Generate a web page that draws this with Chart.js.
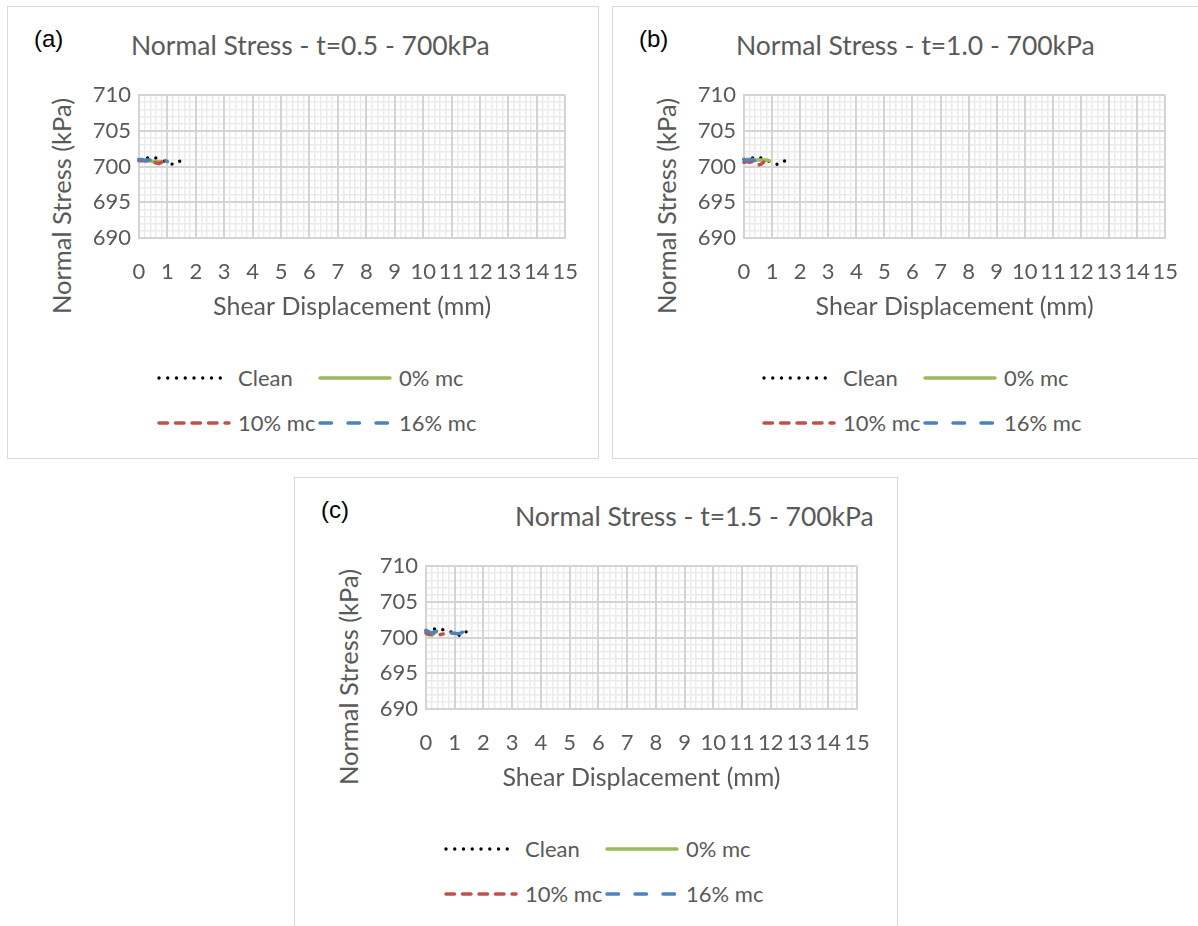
<!DOCTYPE html>
<html>
<head>
<meta charset="utf-8">
<script src="https://cdn.jsdelivr.net/npm/chart.js@4.4.1/dist/chart.umd.min.js"></script>
<style>
  html, body { margin: 0; padding: 0; background: #fff; }
  #page { position: relative; width: 1198px; height: 926px; overflow: hidden; background: #fff; }
  .panel { position: absolute; border: 1px solid #d9d9d9; box-sizing: border-box; background: #fff; }
  .panel canvas { position: absolute; left: -1px; top: -1px; }
  .tag { position: absolute; font-family: "Liberation Sans", Arial, sans-serif; font-size: 24px; line-height: 28px; color: #000; white-space: nowrap; }
  .ttl { position: absolute; font-family: Lato, sans-serif; font-size: 26.5px; line-height: 30px; color: #595959; white-space: nowrap; }
  .ytitle { position: absolute; font-family: Lato, sans-serif; font-size: 25.5px; line-height: 30px; color: #595959; white-space: nowrap;
            transform: translate(-50%, -50%) rotate(-90deg); }
  .lg { position: absolute; display: flex; align-items: center; font-family: Lato, sans-serif; font-size: 22px; line-height: 26px; color: #595959; white-space: nowrap; }
  .lg svg { display: block; margin-right: 7px; }
</style>
</head>
<body>
<div id="page"></div>
<script>
// Shear displacement (mm) at which readings were taken
const disp = [0, 0.1, 0.2, 0.3, 0.4, 0.5, 0.6, 0.7, 0.8, 0.9, 1.0, 1.1, 1.2, 1.3, 1.4, 1.5];

const seriesNames = ['Clean', '0% mc', '10% mc', '16% mc'];
const panelTags = ['(a)', '(b)', '(c)'];
const panelTitles = ['Normal Stress - t=0.5 - 700kPa', 'Normal Stress - t=1.0 - 700kPa', 'Normal Stress - t=1.5 - 700kPa'];
const xAxisTitle = 'Shear Displacement (mm)';
const yAxisTitle = 'Normal Stress (kPa)';

// Normal stress (kPa), t = 0.5
const cleanA = [701.0, 701.1, 701.1, 701.2, 701.0, 701.1, 701.2, 701.0, 700.9, 700.7, 700.5, 700.4, 700.3, 700.3, 700.6, 701.0];
const mc0A   = [700.9, 700.9, 700.9, 700.8, 700.8, 700.7, 700.7, 700.7, 700.7];
const mc10A  = [700.8, 700.8, 700.8, 700.8, 700.8, 700.6, 700.5, 700.4, 700.6];
const mc16A  = [700.9, 701.0, 700.8, 700.9, 700.9, 700.8, 700.8, 701.0, 701.0, 700.9, 700.7];

// Normal stress (kPa), t = 1.0
const cleanB = [701.0, 701.1, 701.1, 701.2, 701.0, 701.1, 701.2, 701.0, 700.9, 700.7, 700.5, 700.4, 700.3, 700.3, 700.6, 701.0];
const mc0B   = [700.9, 701.0, 701.0, 700.9, 700.9, 700.9, 700.9, 700.9, 700.9, 700.8];
const mc10B  = [700.6, 700.7, 700.6, 700.7, 700.5, 700.2, 700.3, 700.6];
const mc16B  = [701.0, 700.8, 700.9, 701.0, 700.8];

// Normal stress (kPa), t = 1.5
const cleanC = [700.9, 701.0, 701.1, 701.2, 701.0, 701.1, 701.1, 700.9, 700.9, 700.7, 700.6, 700.4, 700.2, 700.4, 700.8, 701.0];
const mc0C   = [700.8, 700.6, 700.3, 700.6];
const mc10C  = [700.6, 700.4, 700.5, 700.8, 700.8, 700.4, 700.5];
const mc16C  = [701.0, 700.8, 700.6, 700.8, 700.9, 700.6, 700.5, 700.7, 700.8, 700.6, 700.6, 700.5, 700.6, 700.8, 701.0, 701.1];

const xRange = [0, 15];
const yRange = [690, 710];
const xMajorStep = 1, xMinorStep = 0.2;
const yMajorStep = 5, yMinorStep = 1;

const styles = [
  { color: '#000000', width: 3.4, dash: [0, 8.75] },
  { color: '#9BBB59', width: 3.5, dash: [] },
  { color: '#C0504D', width: 3.5, dash: [8.5, 8] },
  { color: '#4F81BD', width: 3.5, dash: [11.5, 16.5] }
];

const FONT = 'Lato, sans-serif';
const TEXT = '#595959';
const MAJOR = '#d4d4d4';
const MINOR = '#ebebeb';

const panels = [
  { left: 7,   top: 6,   w: 592, h: 453, titleLeft: 123, series: [cleanA, mc0A, mc10A, mc16A] },
  { left: 612, top: 6,   w: 587, h: 453, titleLeft: 123, series: [cleanB, mc0B, mc10B, mc16B] },
  { left: 294, top: 477, w: 604, h: 460, titleLeft: 220, series: [cleanC, mc0C, mc10C, mc16C] }
];

// chart area inside each panel
const AREA = { left: 132, right: 563, top: 89, bottom: 232 };
const X_AXIS_H = 84;

function legendSample(style) {
  const ns = 'http://www.w3.org/2000/svg';
  const svg = document.createElementNS(ns, 'svg');
  svg.setAttribute('width', '74');
  svg.setAttribute('height', '8');
  const ln = document.createElementNS(ns, 'line');
  ln.setAttribute('x1', '2'); ln.setAttribute('x2', '72');
  ln.setAttribute('y1', '4'); ln.setAttribute('y2', '4');
  ln.setAttribute('stroke', style.color);
  ln.setAttribute('stroke-width', style.width);
  ln.setAttribute('stroke-linecap', 'round');
  if (style.dash.length) ln.setAttribute('stroke-dasharray', style.dash.join(' '));
  svg.appendChild(ln);
  return svg;
}

function addText(parent, cls, text, css) {
  const d = document.createElement('div');
  d.className = cls;
  d.textContent = text;
  Object.assign(d.style, css);
  parent.appendChild(d);
  return d;
}

// minor grid lines are skipped where a major line sits
function minorColor(step) {
  return ctx => {
    const v = ctx.tick ? ctx.tick.value : 0;
    const r = v / step;
    return Math.abs(r - Math.round(r)) < 1e-6 ? 'rgba(0,0,0,0)' : MINOR;
  };
}

const page = document.getElementById('page');

panels.forEach((p, k) => {
  const box = document.createElement('div');
  box.className = 'panel';
  Object.assign(box.style, { left: p.left + 'px', top: p.top + 'px', width: p.w + 'px', height: p.h + 'px' });
  page.appendChild(box);

  addText(box, 'tag', panelTags[k], { left: '26px', top: '18px' });
  addText(box, 'ttl', panelTitles[k], { left: p.titleLeft + 'px', top: '23px' });
  addText(box, 'ytitle', yAxisTitle, { left: '53px', top: '199px' });

  // legend, two entries per row
  const legendPos = [[149, 358], [310, 358], [149, 403], [310, 403]];
  seriesNames.forEach((name, i) => {
    const item = document.createElement('div');
    item.className = 'lg';
    item.style.left = legendPos[i][0] + 'px';
    item.style.top = legendPos[i][1] + 'px';
    item.appendChild(legendSample(styles[i]));
    const t = document.createElement('span');
    t.textContent = name;
    item.appendChild(t);
    box.appendChild(item);
  });

  const cv = document.createElement('canvas');
  cv.width = p.w; cv.height = p.h;
  cv.style.width = p.w + 'px'; cv.style.height = p.h + 'px';
  box.appendChild(cv);

  const datasets = p.series.map((vals, i) => ({
    label: seriesNames[i],
    data: vals.map((v, j) => ({ x: disp[j], y: v })),
    showLine: true,
    borderColor: styles[i].color,
    backgroundColor: styles[i].color,
    borderWidth: styles[i].width,
    borderDash: styles[i].dash,
    borderCapStyle: 'round',
    borderJoinStyle: 'round',
    pointRadius: 0,
    tension: 0,
    clip: 4,
    order: 3 - i,
    xAxisID: 'x',
    yAxisID: 'y'
  }));

  new Chart(cv, {
    type: 'scatter',
    data: { datasets },
    options: {
      responsive: false,
      animation: false,
      events: [],
      layout: { padding: { left: 0, top: AREA.top, right: p.w - AREA.right, bottom: p.h - AREA.bottom - X_AXIS_H } },
      plugins: { legend: { display: false }, tooltip: { enabled: false }, title: { display: false } },
      scales: {
        x: {
          type: 'linear', position: 'bottom', min: xRange[0], max: xRange[1],
          ticks: { stepSize: xMajorStep, autoSkip: false, maxRotation: 0, minRotation: 0, padding: 21, color: TEXT, font: { family: FONT, size: 22 } },
          grid: { color: MAJOR, lineWidth: 2, drawTicks: false, z: -1 },
          border: { color: MAJOR, width: 2 },
          title: { display: true, text: xAxisTitle, color: TEXT, font: { family: FONT, size: 25 }, padding: { top: 0, bottom: 0 } },
          afterFit: s => { s.height = X_AXIS_H; }
        },
        y: {
          type: 'linear', position: 'left', min: yRange[0], max: yRange[1],
          ticks: { stepSize: yMajorStep, padding: 8, color: TEXT, font: { family: FONT, size: 22 } },
          grid: { color: MAJOR, lineWidth: 2, drawTicks: false, z: -1 },
          border: { color: MAJOR, width: 2 },
          afterFit: s => { s.width = AREA.left; }
        },
        xm: {
          type: 'linear', axis: 'x', position: 'bottom', min: xRange[0], max: xRange[1],
          ticks: { display: false, stepSize: xMinorStep, autoSkip: false, maxTicksLimit: 1000 },
          grid: { color: minorColor(xMajorStep), lineWidth: 1.5, drawTicks: false, z: -2 },
          border: { display: false },
          afterFit: s => { s.height = 0; }
        },
        ym: {
          type: 'linear', axis: 'y', position: 'left', min: yRange[0], max: yRange[1],
          ticks: { display: false, stepSize: yMinorStep, autoSkip: false, maxTicksLimit: 1000 },
          grid: { color: minorColor(yMajorStep), lineWidth: 1.5, drawTicks: false, z: -2 },
          border: { display: false },
          afterFit: s => { s.width = 0; }
        }
      }
    }
  });
});
</script>
</body>
</html>
